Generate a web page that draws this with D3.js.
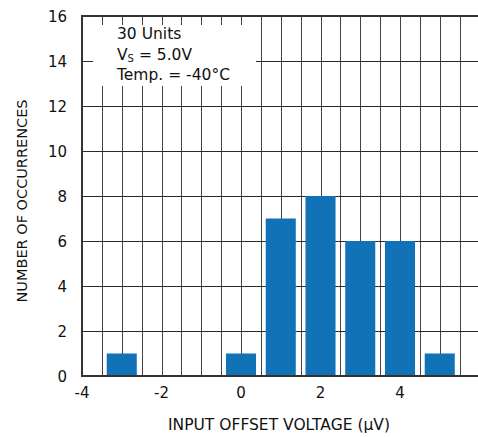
<!DOCTYPE html>
<html>
<head>
<meta charset="utf-8">
<script src="https://cdn.jsdelivr.net/npm/d3@7"></script>
<style>
  body { margin: 0; background: #fff; }
  svg { display: block; font-family: "DejaVu Sans", Arial, sans-serif; }
</style>
</head>
<body>
<div id="chart"></div>
<script>
// histogram data: offset voltage bin centres (µV) and counts
const binCenters = [-3, 0, 1, 2, 3, 4, 5];
const counts = [1, 1, 7, 8, 6, 6, 1];
const xTicks = [-4, -2, 0, 2, 4];
const yTicks = [0, 2, 4, 6, 8, 10, 12, 14, 16];
const noteLines = ["30 Units", "Vs = 5.0V", "Temp. = -40°C"];

const W = 478, H = 437;
const plotLeft = 82, plotTop = 16, plotBottom = 376;

const svg = d3.select("#chart").append("svg")
    .attr("width", W)
    .attr("height", H);

const x = d3.scaleLinear().domain([-4, 6]).range([plotLeft, 479.5]);
const y = d3.scaleLinear().domain([0, 16]).range([plotBottom, plotTop]);

// vertical grid every 0.5
const vGrid = d3.range(-3.5, 6, 0.5);
svg.append("g").selectAll("line")
    .data(vGrid)
    .enter().append("line")
    .attr("x1", d => Math.round(x(d)) + 0.5)
    .attr("x2", d => Math.round(x(d)) + 0.5)
    .attr("y1", plotTop)
    .attr("y2", plotBottom)
    .attr("stroke", "#444")
    .attr("stroke-width", 1);

// horizontal grid
svg.append("g").selectAll("line")
    .data(yTicks.filter(d => d > 0 && d < 16))
    .enter().append("line")
    .attr("x1", plotLeft)
    .attr("x2", W)
    .attr("y1", d => Math.round(y(d)) + 0.5)
    .attr("y2", d => Math.round(y(d)) + 0.5)
    .attr("stroke", "#2a2a2a")
    .attr("stroke-width", 1);

// white box behind the note
svg.append("rect")
    .attr("x", 93)
    .attr("y", 25)
    .attr("width", 163)
    .attr("height", 61)
    .attr("fill", "#fff");

// bars
const barHalf = 0.378;
svg.append("g").selectAll("rect")
    .data(binCenters)
    .enter().append("rect")
    .attr("x", d => x(d - barHalf))
    .attr("width", x(barHalf) - x(-barHalf))
    .attr("y", (d, i) => y(counts[i]))
    .attr("height", (d, i) => y(0) - y(counts[i]))
    .attr("fill", "#1172b8");

// frame: left, top, bottom
const frame = svg.append("g").attr("stroke", "#333").attr("stroke-width", 2);
frame.append("line").attr("x1", plotLeft).attr("x2", plotLeft).attr("y1", plotTop - 1).attr("y2", plotBottom + 1);
frame.append("line").attr("x1", plotLeft - 1).attr("x2", W).attr("y1", plotTop).attr("y2", plotTop);
frame.append("line").attr("x1", plotLeft - 1).attr("x2", W).attr("y1", plotBottom).attr("y2", plotBottom);

// tick labels
svg.append("g").selectAll("text")
    .data(xTicks)
    .enter().append("text")
    .attr("x", d => x(d))
    .attr("y", 398)
    .attr("text-anchor", "middle")
    .attr("font-size", 15)
    .attr("fill", "#111")
    .text(d => d);

svg.append("g").selectAll("text")
    .data(yTicks)
    .enter().append("text")
    .attr("x", 67)
    .attr("y", d => y(d) + 5.5)
    .attr("text-anchor", "end")
    .attr("font-size", 15)
    .attr("fill", "#111")
    .text(d => d);

// note text
const note = svg.append("g").attr("font-size", 15.5).attr("fill", "#111");
note.append("text").attr("x", 117).attr("y", 39).text(noteLines[0]);
const vs = note.append("text").attr("x", 117).attr("y", 60);
vs.append("tspan").text("V");
vs.append("tspan").attr("font-size", 10).attr("dy", 2).text("S");
vs.append("tspan").attr("dy", -2).text(" = 5.0V");
note.append("text").attr("x", 117).attr("y", 80).text(noteLines[2]);

// axis titles
svg.append("text")
    .attr("x", 279)
    .attr("y", 430)
    .attr("text-anchor", "middle")
    .attr("font-size", 15.5)
    .attr("fill", "#111")
    .text("INPUT OFFSET VOLTAGE (µV)");

svg.append("text")
    .attr("transform", "translate(27,201) rotate(-90)")
    .attr("text-anchor", "middle")
    .attr("font-size", 14.5)
    .attr("fill", "#111")
    .text("NUMBER OF OCCURRENCES");
</script>
</body>
</html>
